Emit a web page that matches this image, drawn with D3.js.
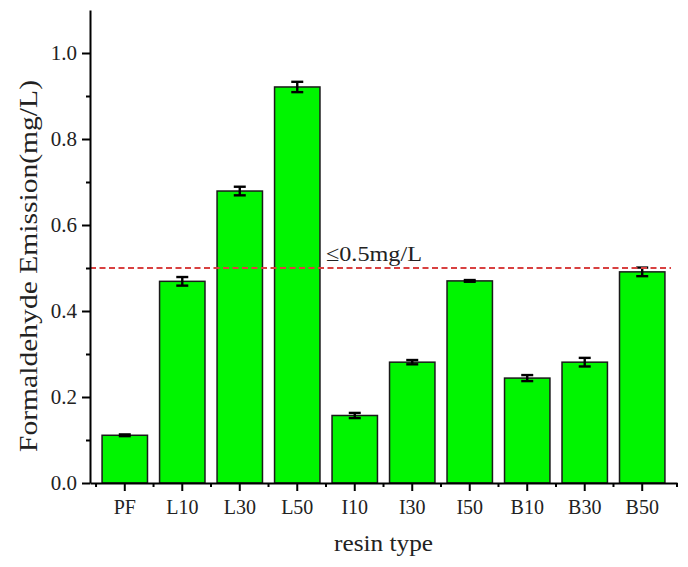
<!DOCTYPE html>
<html>
<head>
<meta charset="utf-8">
<script src="https://cdn.jsdelivr.net/npm/d3@7"></script>
<style>
    body { margin: 0; background: #fff; }
</style>
</head>
<body>
<svg id="chart" width="688" height="567"></svg>
<script>
    var categories = ['PF', 'L10', 'L30', 'L50', 'I10', 'I30', 'I50', 'B10', 'B30', 'B50'];
    var values = [0.111, 0.469, 0.679, 0.921, 0.157, 0.281, 0.470, 0.244, 0.281, 0.491];
    var errors = [0.002, 0.010, 0.010, 0.012, 0.006, 0.005, 0.002, 0.007, 0.010, 0.010];
    var yTicks = [0.0, 0.2, 0.4, 0.6, 0.8, 1.0];
    var yMinor = [0.1, 0.3, 0.5, 0.7, 0.9];
    var limitValue = 0.5;
    var limitLabel = '\u22640.5mg/L';

    var FONT = 'Liberation Serif';
    var svg = d3.select('#chart');
    var margin = { left: 90, right: 11, top: 10, bottom: 84 };
    var width = 688 - margin.left - margin.right;
    var height = 567 - margin.top - margin.bottom;
    var g = svg.append('g').attr('transform', 'translate(' + margin.left + ',' + margin.top + ')');

    var x = d3.scaleBand().domain(categories).range([0, width]).padding(0.21);
    var y = d3.scaleLinear().domain([0, 1.1]).range([height, 0]);

    // bars
    g.selectAll('.bar')
        .data(values)
        .enter()
        .append('rect')
        .attr('class', 'bar')
        .attr('x', function (d, i) { return x(categories[i]); })
        .attr('y', function (d) { return y(d); })
        .attr('width', x.bandwidth())
        .attr('height', function (d) { return height - y(d); })
        .attr('fill', '#00f500')
        .attr('stroke', '#1a1a1a')
        .attr('stroke-width', 1.5);

    // error bars
    var capW = 6;
    var cx = function (d, i) { return x(categories[i]) + x.bandwidth() / 2; };
    var err = g.selectAll('.err')
        .data(values)
        .enter()
        .append('g')
        .attr('class', 'err')
        .attr('stroke', '#000')
        .attr('stroke-width', 2.4);
    err.append('line')
        .attr('x1', cx)
        .attr('x2', cx)
        .attr('y1', function (d, i) { return y(d - errors[i]); })
        .attr('y2', function (d, i) { return y(d + errors[i]); });
    [-1, 1].forEach(function (s) {
        err.append('line')
            .attr('x1', function (d, i) { return cx(d, i) - capW; })
            .attr('x2', function (d, i) { return cx(d, i) + capW; })
            .attr('y1', function (d, i) { return y(d + s * errors[i]); })
            .attr('y2', function (d, i) { return y(d + s * errors[i]); });
    });

    // limit line
    g.append('line')
        .attr('x1', 0)
        .attr('x2', width - 6)
        .attr('y1', y(limitValue))
        .attr('y2', y(limitValue))
        .attr('stroke', '#d84040')
        .attr('stroke-width', 2)
        .attr('stroke-dasharray', '6,3.5');
    g.append('text')
        .attr('x', x('L50') + x.bandwidth() + 6)
        .attr('y', y(limitValue) - 7)
        .style('font-family', FONT)
        .attr('font-size', 22)
        .attr('textLength', 96)
        .attr('lengthAdjust', 'spacingAndGlyphs')
        .attr('fill', '#222')
        .text(limitLabel);

    // y axis
    var yAxis = g.append('g')
        .call(d3.axisLeft(y).tickValues(yTicks).tickFormat(d3.format('.1f')).tickSize(8).tickSizeOuter(0));
    g.append('g')
        .call(d3.axisLeft(y).tickValues(yMinor).tickFormat('').tickSize(4).tickSizeOuter(0))
        .select('.domain').remove();

    // x axis
    var xAxis = g.append('g')
        .attr('transform', 'translate(0,' + height + ')')
        .call(d3.axisBottom(x).tickSize(8).tickSizeOuter(0));
    var bounds = categories.map(function (c) { return x(c) - x.step() * x.paddingInner() / 2; });
    bounds.push(width);
    g.append('g')
        .attr('transform', 'translate(0,' + height + ')')
        .selectAll('line')
        .data(bounds)
        .enter()
        .append('line')
        .attr('x1', function (d) { return d; })
        .attr('x2', function (d) { return d; })
        .attr('y1', 0)
        .attr('y2', 4)
        .attr('stroke', '#000')
        .attr('stroke-width', 2);

    g.selectAll('.domain').attr('stroke-width', 2).attr('stroke', '#000');
    g.selectAll('.tick line').attr('stroke-width', 2).attr('stroke', '#000');
    yAxis.selectAll('.tick text').attr('x', -13).attr('font-size', 21).attr('fill', '#222').style('font-family', FONT);
    xAxis.selectAll('.tick text').attr('y', 17).attr('font-size', 20).attr('fill', '#222').style('font-family', FONT);

    // axis titles
    svg.append('text')
        .attr('transform', 'translate(37,' + 266 + ') rotate(-90)')
        .attr('text-anchor', 'middle')
        .style('font-family', FONT)
        .attr('font-size', 25)
        .attr('textLength', 372)
        .attr('lengthAdjust', 'spacingAndGlyphs')
        .attr('fill', '#222')
        .text('Formaldehyde Emission(mg/L)');
    svg.append('text')
        .attr('x', margin.left + width / 2)
        .attr('y', 551)
        .attr('text-anchor', 'middle')
        .style('font-family', FONT)
        .attr('font-size', 23)
        .attr('textLength', 99)
        .attr('lengthAdjust', 'spacingAndGlyphs')
        .attr('fill', '#222')
        .text('resin type');
</script>
</body>
</html>
